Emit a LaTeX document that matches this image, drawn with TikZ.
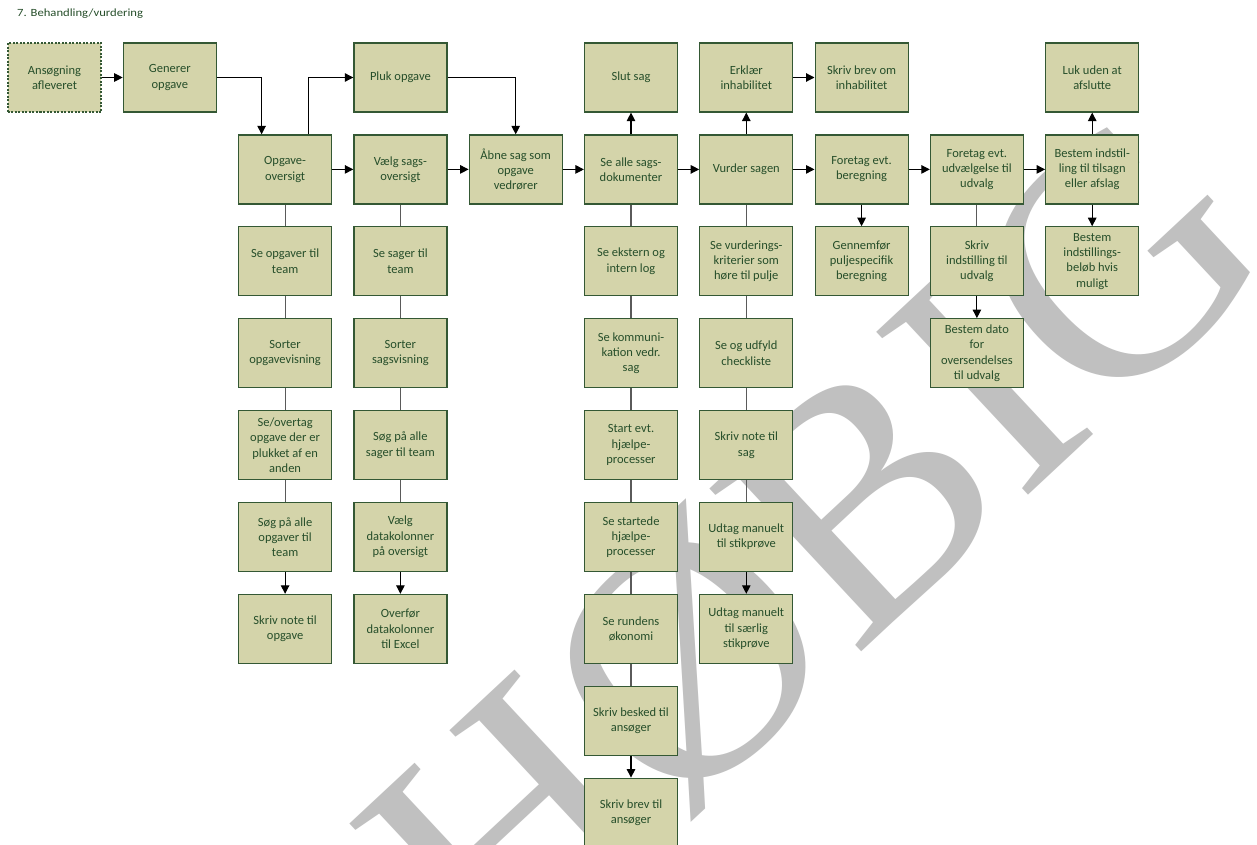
\documentclass[tikz,border=0pt]{standalone}
\usepackage{fontspec}
\setmainfont{Carlito}
\newfontfamily\wmfont{Liberation Serif}
\usetikzlibrary{arrows.meta}
\definecolor{boxfill}{RGB}{212,212,170}
\definecolor{boxline}{RGB}{52,88,52}
\definecolor{boxtext}{RGB}{38,78,42}
\definecolor{wmgray}{RGB}{192,192,192}
\definecolor{plainline}{RGB}{90,90,90}
\begin{document}
\begin{tikzpicture}[x=1bp,y=-1bp,
  task/.style={draw=boxline, line width=1.2bp, fill=boxfill, text=boxtext,
    minimum width=93bp, minimum height=69bp, inner sep=0pt, align=center,
    font=\fontsize{12.5bp}{15.3bp}\selectfont},
  startbox/.style={task, dash pattern=on 2bp off 1.5bp},
  arr/.style={draw=black, line width=1.1bp, -{Triangle[length=8.5bp,width=8.5bp]}},
  ln/.style={draw=plainline, line width=1.1bp}]
\useasboundingbox (0,0) rectangle (1257,845);
\clip (0,0) rectangle (1257,845);
\fill[white] (0,0) rectangle (1257,845);

% watermark
\node[rotate=43, text=wmgray, inner sep=0pt,
  font=\wmfont\fontsize{340bp}{340bp}\selectfont] (wm) at (813,545) {HØBIG};

% title
\node[anchor=west, text=boxtext, inner sep=0pt, xscale=1.15,
  font=\fontsize{11bp}{13bp}\selectfont] (title) at (17,14) {7. Behandling/vurdering};

% row 0
\node[startbox] (ans) at (54.5,77.5) {Ansøgning\\afleveret};
\node[task] (gen) at (169.8,77.5) {Generer\\opgave};
\node[task] (pluk) at (400.4,77.5) {Pluk opgave};
\node[task] (slut) at (631.0,77.5) {Slut sag};
\node[task] (erk) at (746.3,77.5) {Erklær\\inhabilitet};
\node[task] (brevinh) at (861.6,77.5) {Skriv brev om\\inhabilitet};
\node[task] (luk) at (1092.2,77.5) {Luk uden at\\afslutte};

% row 1
\node[task] (ov) at (285.1,169.4) {Opgave-\\oversigt};
\node[task] (vsag) at (400.4,169.4) {Vælg sags-\\oversigt};
\node[task] (aabn) at (515.7,169.4) {Åbne sag som\\opgave\\vedrører};
\node[task] (dok) at (631.0,169.4) {Se alle sags-\\dokumenter};
\node[task] (vurd) at (746.3,169.4) {Vurder sagen};
\node[task] (ber) at (861.6,169.4) {Foretag evt.\\beregning};
\node[task] (udv) at (976.9,169.4) {Foretag evt.\\udvælgelse til\\udvalg};
\node[task] (best) at (1092.2,169.4) {Bestem indstil-\\ling til tilsagn\\eller afslag};

% row 2
\node[task] (sot) at (285.1,261.3) {Se opgaver til\\team};
\node[task] (sst) at (400.4,261.3) {Se sager til\\team};
\node[task] (log) at (631.0,261.3) {Se ekstern og\\intern log};
\node[task] (krit) at (746.3,261.3) {Se vurderings-\\kriterier som\\høre til pulje};
\node[task] (genn) at (861.6,261.3) {Gennemfør\\puljespecifik\\beregning};
\node[task] (sind) at (976.9,261.3) {Skriv\\indstilling til\\udvalg};
\node[task] (belob) at (1092.2,261.3) {Bestem\\indstillings-\\beløb hvis\\muligt};

% row 3
\node[task] (sov) at (285.1,353.2) {Sorter\\opgavevisning};
\node[task] (ssv) at (400.4,353.2) {Sorter\\sagsvisning};
\node[task] (komm) at (631.0,353.2) {Se kommuni-\\kation vedr.\\sag};
\node[task] (check) at (746.3,353.2) {Se og udfyld\\checkliste};
\node[task] (dato) at (976.9,353.2) {Bestem dato\\for\\oversendelses\\til udvalg};

% row 4
\node[task] (overt) at (285.1,445.1) {Se/overtag\\opgave der er\\plukket af en\\anden};
\node[task] (soegs) at (400.4,445.1) {Søg på alle\\sager til team};
\node[task] (hjst) at (631.0,445.1) {Start evt.\\hjælpe-\\processer};
\node[task] (nsag) at (746.3,445.1) {Skriv note til\\sag};

% row 5
\node[task] (soego) at (285.1,537.0) {Søg på alle\\opgaver til\\team};
\node[task] (vdata) at (400.4,537.0) {Vælg\\datakolonner\\på oversigt};
\node[task] (hjse) at (631.0,537.0) {Se startede\\hjælpe-\\processer};
\node[task] (stik) at (746.3,537.0) {Udtag manuelt\\til stikprøve};

% row 6
\node[task] (nopg) at (285.1,628.9) {Skriv note til\\opgave};
\node[task] (excel) at (400.4,628.9) {Overfør\\datakolonner\\til Excel};
\node[task] (okon) at (631.0,628.9) {Se rundens\\økonomi};
\node[task] (saer) at (746.3,628.9) {Udtag manuelt\\til særlig\\stikprøve};

% rows 7-8
\node[task] (besk) at (631.0,720.8) {Skriv besked til\\ansøger};
\node[task] (brev) at (631.0,812.7) {Skriv brev til\\ansøger};

% main flow
\draw[arr] (ans) -- (gen);
\draw[arr] (gen.east) -| ([xshift=-23.5bp]ov.north);
\draw[arr] ([xshift=23.5bp]ov.north) |- (pluk.west);
\draw[arr] (pluk.east) -| (aabn.north);
\draw[arr] (ov) -- (vsag);
\draw[arr] (vsag) -- (aabn);
\draw[arr] (aabn) -- (dok);
\draw[arr] (dok) -- (slut);
\draw[arr] (dok) -- (vurd);
\draw[arr] (vurd) -- (erk);
\draw[arr] (erk) -- (brevinh);
\draw[arr] (vurd) -- (ber);
\draw[arr] (ber) -- (genn);
\draw[arr] (ber) -- (udv);
\draw[arr] (udv) -- (best);
\draw[arr] (best) -- (luk);
\draw[arr] (best) -- (belob);
\draw[ln] (udv) -- (sind);
\draw[arr] (sind) -- (dato);

% task lists
\draw[ln] (ov) -- (sot);
\draw[ln] (sot) -- (sov);
\draw[ln] (sov) -- (overt);
\draw[ln] (overt) -- (soego);
\draw[arr] (soego) -- (nopg);

\draw[ln] (vsag) -- (sst);
\draw[ln] (sst) -- (ssv);
\draw[ln] (ssv) -- (soegs);
\draw[ln] (soegs) -- (vdata);
\draw[arr] (vdata) -- (excel);

\draw[ln] (dok) -- (log);
\draw[ln] (log) -- (komm);
\draw[ln] (komm) -- (hjst);
\draw[ln] (hjst) -- (hjse);
\draw[ln] (hjse) -- (okon);
\draw[ln] (okon) -- (besk);
\draw[arr] (besk) -- (brev);

\draw[ln] (vurd) -- (krit);
\draw[ln] (krit) -- (check);
\draw[ln] (check) -- (nsag);
\draw[ln] (nsag) -- (stik);
\draw[arr] (stik) -- (saer);
\end{tikzpicture}
\end{document}
